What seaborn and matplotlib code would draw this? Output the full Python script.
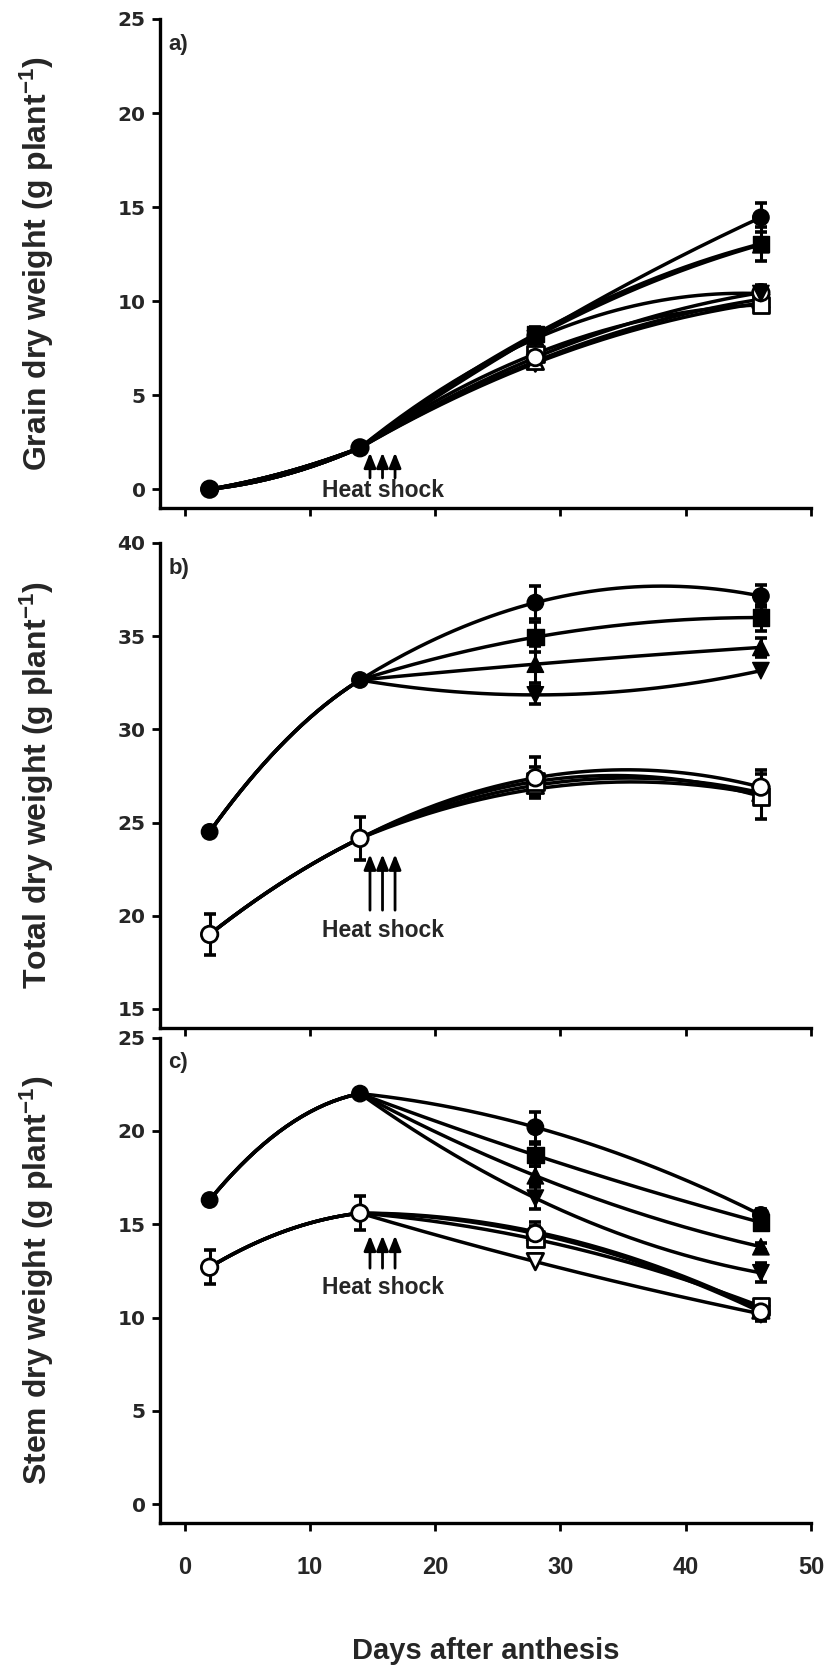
import numpy as np
import pandas as pd
import matplotlib
matplotlib.use("Agg")
import matplotlib.pyplot as plt
from matplotlib import font_manager
import seaborn as sns

sns.set_theme(style="ticks")

installed = {f.name for f in font_manager.fontManager.ttflist}


def pick(*names):
    for n in names:
        if n in installed:
            return n
    return "DejaVu Sans"


HELV = pick("Liberation Sans", "Roboto", "DejaVu Sans")
WIDE = "DejaVu Sans"
plt.rcParams["font.family"] = [HELV, "DejaVu Sans"]
plt.rcParams["mathtext.fontset"] = "custom"
plt.rcParams["mathtext.bf"] = f"{HELV}:bold"
plt.rcParams["mathtext.rm"] = f"{HELV}:bold"
plt.rcParams["mathtext.default"] = "bf"

# ---------------------------------------------------------------- data
days = [2, 14, 28, 46]
shapes = ["circle", "square", "triangle_up", "triangle_down"]
marker_map = {"circle": "o", "square": "s", "triangle_up": "^", "triangle_down": "v"}

# a) grain dry weight, g plant-1
grain_filled = [[0.0, 2.2, 8.15, 14.45],
                [0.0, 2.2, 8.25, 13.05],
                [0.0, 2.2, 8.1, 13.0],
                [0.0, 2.2, 8.0, 10.4]]
grain_filled_err = [[0, 0, 0.3, 0.75],
                    [0, 0, 0.4, 0.9],
                    [0, 0, 0, 0],
                    [0, 0, 0, 0]]
grain_open = [[0.0, 2.2, 7.0, 10.45],
              [0.0, 2.2, 7.2, 9.8],
              [0.0, 2.2, 6.8, 10.1],
              [0.0, 2.2, 6.7, 9.9]]
grain_open_err = [[0, 0, 0, 0.4],
                  [0, 0, 0.3, 0.3],
                  [0, 0, 0, 0],
                  [0, 0, 0, 0]]

# b) total dry weight, g plant-1
total_filled = [[24.5, 32.65, 36.8, 37.15],
                [24.5, 32.65, 34.95, 36.0],
                [24.5, 32.65, 33.5, 34.4],
                [24.5, 32.65, 31.85, 33.15]]
total_filled_err = [[0, 0, 0.9, 0.6],
                    [0, 0, 0.8, 0.7],
                    [0, 0, 1.0, 0.5],
                    [0, 0, 0.5, 0]]
total_open = [[19.0, 24.15, 27.4, 26.9],
              [19.0, 24.15, 27.2, 26.4],
              [19.0, 24.15, 27.0, 26.6],
              [19.0, 24.15, 26.8, 26.5]]
total_open_err = [[1.1, 1.15, 1.1, 0.9],
                  [0, 0, 0.8, 1.2],
                  [0, 0, 0.6, 0],
                  [0, 0, 0, 0]]

# c) stem dry weight, g plant-1
stem_filled = [[16.3, 22.0, 20.2, 15.5],
               [16.3, 22.0, 18.7, 15.1],
               [16.3, 22.0, 17.6, 13.8],
               [16.3, 22.0, 16.4, 12.4]]
stem_filled_err = [[0, 0, 0.8, 0.3],
                   [0, 0, 0.6, 0.4],
                   [0, 0, 0.5, 0.2],
                   [0, 0, 0.6, 0.5]]
stem_open = [[12.7, 15.6, 14.5, 10.3],
             [12.7, 15.6, 14.2, 10.6],
             [12.7, 15.6, 14.6, 10.4],
             [12.7, 15.6, 13.0, 10.2]]
stem_open_err = [[0.9, 0.9, 0.4, 0.5],
                 [0, 0, 0.3, 0.3],
                 [0, 0, 0.5, 0],
                 [0, 0, 0, 0]]

heat_shock_days = [14.8, 15.8, 16.8]

panels = [
    dict(tag="a)", ylabel=r"Grain dry weight (g plant$^{-1}$)", ylim=(-1, 25), yticks=[0, 5, 10, 15, 20, 25],
         filled=grain_filled, filled_err=grain_filled_err, open=grain_open, open_err=grain_open_err,
         arrow=(1.95, 0.6), text_y=-0.05),
    dict(tag="b)", ylabel=r"Total dry weight (g plant$^{-1}$)", ylim=(14, 40), yticks=[15, 20, 25, 30, 35, 40],
         filled=total_filled, filled_err=total_filled_err, open=total_open, open_err=total_open_err,
         arrow=(23.3, 20.3), text_y=19.2),
    dict(tag="c)", ylabel=r"Stem dry weight (g plant$^{-1}$)", ylim=(-1, 25), yticks=[0, 5, 10, 15, 20, 25],
         filled=stem_filled, filled_err=stem_filled_err, open=stem_open, open_err=stem_open_err,
         arrow=(14.4, 12.65), text_y=11.6),
]


def smooth_series(vals, group_mid):
    """Smooth curve: a shared rise from day 2 to 14, then a quadratic through days 14, 28, 46."""
    c1 = np.polyfit([days[0], days[1], days[2]], [vals[0], vals[1], group_mid], 2)
    x1 = np.linspace(days[0], days[1], 40)
    c2 = np.polyfit(days[1:], vals[1:], 2)
    x2 = np.linspace(days[1], days[3], 90)
    return np.concatenate([x1, x2]), np.concatenate([np.polyval(c1, x1), np.polyval(c2, x2)])


def curve_frame(group, prefix):
    mid = float(np.mean([v[2] for v in group]))
    rows = []
    for shape, vals in zip(shapes, group):
        xs, ys = smooth_series(vals, mid)
        rows.append(pd.DataFrame({"day": xs, "weight": ys, "series": f"{prefix}-{shape}"}))
    return pd.concat(rows, ignore_index=True)


def point_frame(group):
    # where treatments share one value only the circle is drawn; circles are drawn last
    rows = [pd.DataFrame({"day": days, "weight": vals, "shape": shape}) for shape, vals in zip(shapes, group)]
    df = pd.concat(rows, ignore_index=True).drop_duplicates(subset=["day", "weight"], keep="first")
    return df.iloc[::-1].reset_index(drop=True)


# ---------------------------------------------------------------- figure
W, H = 826, 1666
fig = plt.figure(figsize=(W / 100, H / 100), dpi=100)
left = 159.5 / W
width = (811 - 159.5) / W
boxes = [(19, 508), (543, 1027.6), (1037.6, 1523)]

LW = 2.5
MS = 140
for i, (p, (top_px, bot_px)) in enumerate(zip(panels, boxes)):
    ax = fig.add_axes([left, 1 - bot_px / H, width, (bot_px - top_px) / H])
    ax.set_facecolor("white")

    for grp, prefix in ((p["open"], "open"), (p["filled"], "filled")):
        sns.lineplot(data=curve_frame(grp, prefix), x="day", y="weight", units="series",
                     estimator=None, sort=False, color="black", lw=LW, legend=False, ax=ax, zorder=2)

    for grp, errs in ((p["open"], p["open_err"]), (p["filled"], p["filled_err"])):
        for vals, err in zip(grp, errs):
            sel = [k for k, e in enumerate(err) if e > 0]
            if sel:
                ax.errorbar([days[k] for k in sel], [vals[k] for k in sel], yerr=[err[k] for k in sel],
                            fmt="none", ecolor="black", elinewidth=2.2, capsize=4.5, capthick=2.6, zorder=3)

    sns.scatterplot(data=point_frame(p["open"]), x="day", y="weight", style="shape", markers=marker_map,
                    style_order=shapes, color="white", edgecolor="black", linewidth=2.0, s=MS,
                    legend=False, ax=ax, zorder=4)
    sns.scatterplot(data=point_frame(p["filled"]), x="day", y="weight", style="shape", markers=marker_map,
                    style_order=shapes, color="black", edgecolor="black", linewidth=1.0, s=MS,
                    legend=False, ax=ax, zorder=5)

    tip, tail = p["arrow"]
    for d in heat_shock_days:
        ax.annotate("", xy=(d, tip), xytext=(d, tail),
                    arrowprops=dict(arrowstyle="-|>,head_width=0.3,head_length=0.75", color="black",
                                    lw=2.0, shrinkA=0, shrinkB=0), zorder=3)
    ax.text(heat_shock_days[1], p["text_y"], "Heat shock", ha="center", va="center", fontsize=16.5,
            fontweight="bold", family=[HELV, "DejaVu Sans"])

    ax.text(0.014, 0.948, p["tag"], transform=ax.transAxes, ha="left", va="center", fontsize=16,
            fontweight="bold", family=[HELV, "DejaVu Sans"])

    ax.set_xlim(-2, 50)
    ax.set_ylim(*p["ylim"])
    ax.set_yticks(p["yticks"])
    ax.set_xticks([0, 10, 20, 30, 40, 50])
    ax.set_xlabel("")
    ax.set_ylabel("")
    sns.despine(ax=ax)
    for s in ("left", "bottom"):
        ax.spines[s].set_linewidth(2.4)
        ax.spines[s].set_color("black")
    ax.tick_params(axis="both", direction="out", length=6, width=2, color="black", pad=4)
    for t in ax.get_yticklabels():
        t.set_fontfamily(WIDE)
        t.set_fontweight("bold")
        t.set_fontsize(14.5)
    if i < 2:
        ax.set_xticklabels([])
    else:
        for t in ax.get_xticklabels():
            t.set_fontfamily(HELV)
            t.set_fontweight("bold")
            t.set_fontsize(17)
        ax.tick_params(axis="x", pad=18)

    yc = 1 - (top_px + bot_px) / 2 / H
    fig.text(37 / W, yc, p["ylabel"], rotation=90, ha="center", va="center", fontsize=23,
             fontweight="bold", family=[HELV, "DejaVu Sans"])

fig.text((159.5 + 811) / 2 / W, 1 - 1651 / H, "Days after anthesis", ha="center", va="center",
         fontsize=21, fontweight="bold", family=[HELV, "DejaVu Sans"])

fig.savefig("out.png", dpi=100, facecolor="white")
